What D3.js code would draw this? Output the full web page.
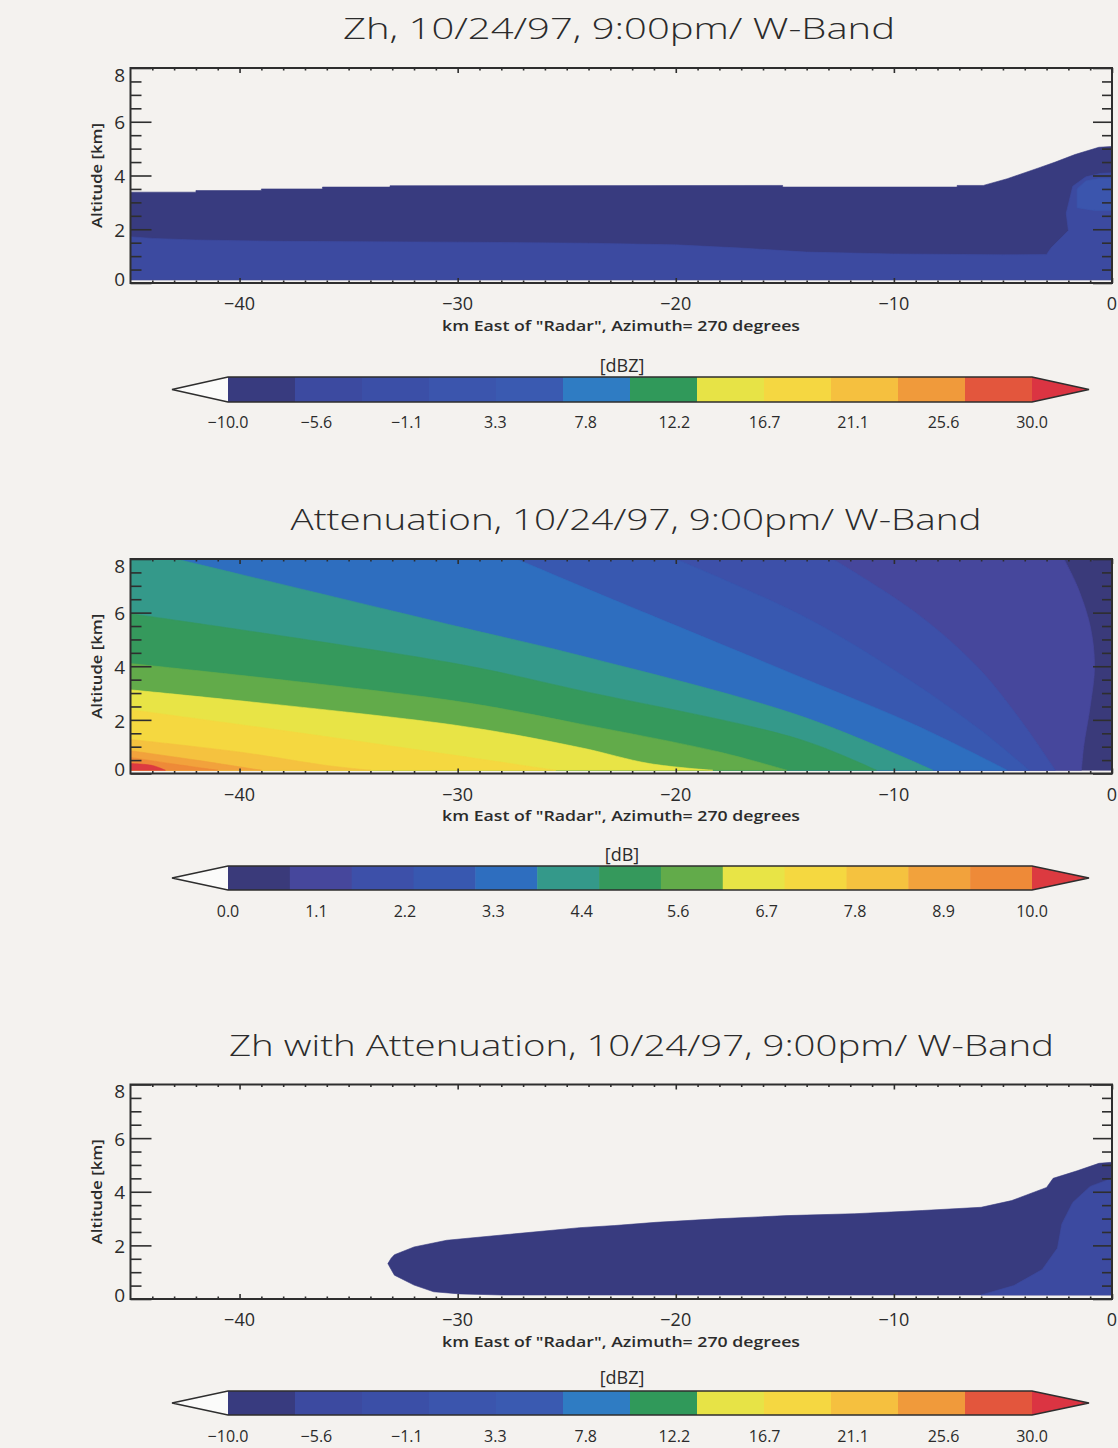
<!DOCTYPE html>
<html>
<head>
<meta charset="utf-8">
<script src="https://cdn.jsdelivr.net/npm/d3@7"></script>
<style>
  body { margin: 0; background: #f4f2ef; }
  svg { display: block; }
  text { font-family: "Open Sans", "DejaVu Sans", sans-serif; fill: #2b2b2b; }
</style>
</head>
<body>
<svg id="fig" width="1118" height="1448"></svg>
<script>
// ---------------------------------------------------------------------------
// Data: range-height sections, W-band, 10/24/97 9:00pm
// Every shape is a filled contour region given as [km east of radar, altitude km]
// ---------------------------------------------------------------------------
const rangeDomain = [-45, 0];
const altDomain = [0, 8];
const xMajorTicks = [-40, -30, -20, -10, 0];
const yMajorTicks = [0, 2, 4, 6, 8];
const lowestGate = 0.12;

// colour tables (one colour per contour level)
const dbzColors = ['#383b7f', '#3c4aa0', '#3b4fa7', '#3b55ad', '#3a5ab1', '#2f7cc3',
                   '#30995a', '#e7e346', '#f5d741', '#f5c03f', '#f09a3b', '#e3563d'];
const dbzOver = '#db3442';
const dbColors = ['#3a3a7a', '#46479c', '#3d50a9', '#3858b0', '#2e6ebf', '#34998a', '#35995c',
                  '#62ab4a', '#e8e446', '#f5d840', '#f5c23f', '#f2a23c', '#ee8a38'];
const dbOver = '#dc3a40';
const dbzTickLabels = ['−10.0', '−5.6', '−1.1', '3.3', '7.8', '12.2', '16.7', '21.1', '25.6', '30.0'];
const dbTickLabels = ['0.0', '1.1', '2.2', '3.3', '4.4', '5.6', '6.7', '7.8', '8.9', '10.0'];

// Zh: echo top (level 0 region upper edge)
const zhEchoTop = [[-45, 3.38], [-42, 3.38], [-42, 3.44], [-39, 3.44], [-39, 3.5], [-36.2, 3.5],
  [-36.2, 3.57], [-33.1, 3.57], [-33.1, 3.62], [-15.1, 3.63], [-15.1, 3.57], [-7.1, 3.57],
  [-7.1, 3.63], [-5.9, 3.63], [-4.8, 3.88], [-3.3, 4.3], [-2.6, 4.5], [-1.7, 4.78], [-0.6, 5.05], [0, 5.08]];
// Zh: upper edge of the level-1 band (low layer plus the patch next to the radar)
const zhBand1 = [[-45, 1.72], [-44, 1.66], [-42, 1.6], [-38, 1.55], [-30, 1.52], [-24, 1.48],
  [-20, 1.42], [-17, 1.3], [-14, 1.15], [-10, 1.08], [-5, 1.05], [-3.0, 1.06], [-2.8, 1.3],
  [-2.0, 1.95], [-2.1, 2.6], [-1.8, 3.6], [-1.2, 3.95], [-0.5, 4.08], [0, 4.1]];
// Zh: level-2 patch
const zhBand2 = [[-1.6, 2.8], [-1.6, 3.5], [-1.2, 3.8], [-0.5, 3.9], [0, 3.9], [0, 2.7], [-0.8, 2.7]];

// Attenuation: lower-left boundary of each level (from top/left edge down to the ground)
const attBounds = [
  [[-2.2, 8], [-1.6, 7], [-1.0, 5.5], [-0.8, 4], [-1.0, 2.5], [-1.3, 1], [-1.4, 0]],
  [[-12.8, 8], [-9, 6], [-6.2, 4], [-4.2, 2], [-2.6, 0]],
  [[-20, 8], [-14, 5.8], [-9.5, 3.6], [-6, 1.6], [-3.8, 0]],
  [[-27.3, 8], [-24.4, 7.0], [-14.3, 3.6], [-9, 1.8], [-4.8, 0]],
  [[-42.9, 8], [-30.1, 5.5], [-24.4, 4.4], [-14.3, 2.15], [-8.2, 0]],
  [[-45, 5.96], [-30.1, 4.1], [-24.4, 3.1], [-14.3, 1.27], [-10.8, 0]],
  [[-45, 4.1], [-30.1, 2.7], [-24.4, 1.85], [-18, 0.8], [-14.9, 0]],
  [[-45, 3.12], [-30.1, 1.8], [-24.4, 0.97], [-21.2, 0.37], [-18.3, 0]],
  [[-45, 2.38], [-38, 1.6], [-32, 0.9], [-27, 0.3], [-25.5, 0]],
  [[-45, 1.27], [-40, 0.8], [-36, 0.3], [-34, 0]],
  [[-45, 0.85], [-42, 0.5], [-39, 0]],
  [[-45, 0.6], [-43, 0.35], [-41, 0]],
  [[-45, 0.37], [-44, 0.3], [-43.4, 0]]
];

// Zh with attenuation: echo outline (top edge, then base edge, both from the western tip)
const zhaEchoTop = [[-33.2, 1.32], [-33.05, 1.52], [-32.9, 1.65], [-32.0, 1.94], [-30.5, 2.19],
  [-27.4, 2.43], [-24.4, 2.66], [-22.8, 2.74], [-20.9, 2.86], [-18.1, 2.99], [-14.9, 3.11],
  [-11.8, 3.18], [-8.7, 3.3], [-6.0, 3.42], [-4.6, 3.67], [-3.0, 4.16], [-2.7, 4.5],
  [-1.6, 4.78], [-0.6, 5.06], [0, 5.1]];
const zhaEchoBase = [[-33.2, 1.32], [-33.05, 1.1], [-32.9, 0.89], [-32.0, 0.52], [-31.1, 0.27],
  [-29.9, 0.19], [-28, 0.15], [0, 0.15]];
const zhaBand1 = [[-6.0, 0.15], [-4.5, 0.5], [-3.2, 1.1], [-2.5, 1.9], [-2.3, 2.8], [-1.8, 3.6],
  [-1.0, 4.2], [0, 4.5], [0, 0.15]];

// ---------------------------------------------------------------------------
const svg = d3.select('#fig');
const X0 = 130.5, X1 = 1112;
const x = d3.scaleLinear().domain(rangeDomain).range([X0, X1]);
const ink = '#2e2e2e';

function panel(cfg) {
  const y = d3.scaleLinear().domain(altDomain).range([cfg.bottom, cfg.top]);
  const g = svg.append('g');
  const clipId = 'clip' + cfg.id;
  svg.append('clipPath').attr('id', clipId).append('rect')
    .attr('x', X0).attr('y', cfg.top).attr('width', X1 - X0).attr('height', cfg.bottom - cfg.top);
  const shape = d3.line().x(d => x(d[0])).y(d => y(d[1]));
  const smooth = d3.line().x(d => x(d[0])).y(d => y(Math.max(d[1], lowestGate)))
    .curve(d3.curveCatmullRom.alpha(0.5));
  const fills = g.append('g').attr('clip-path', `url(#${clipId})`);
  cfg.regions.forEach(r => {
    let d;
    if (r.bound) {
      // level region lies lower-left of its boundary: close along the ground and the west edge
      const b = r.bound;
      d = smooth(b) + `L${x(rangeDomain[0])},${y(lowestGate)}`;
      if (b[0][0] > rangeDomain[0]) d += `L${x(rangeDomain[0])},${y(altDomain[1])}`;
      d += 'Z';
    } else {
      d = shape(r.pts) + 'Z';
    }
    fills.append('path').attr('d', d).attr('fill', r.color)
      .attr('stroke', r.color).attr('stroke-width', 0.6);
  });

  // inward ticks on all four sides
  const minorX = d3.range(-44, 0, 1).filter(v => v % 10 !== 0);
  const minorY = d3.range(0.5, 8, 0.5).filter(v => v % 2 !== 0);
  const tickAxis = (gen, tr, vals, len) => {
    const a = g.append('g').attr('transform', tr)
      .call(gen.tickValues(vals).tickSize(-len).tickSizeOuter(0).tickFormat(''));
    a.select('.domain').remove();
    a.selectAll('line').attr('stroke', ink).attr('stroke-width', 1.6);
  };
  tickAxis(d3.axisBottom(x), `translate(0,${cfg.bottom})`, xMajorTicks, 5);
  tickAxis(d3.axisBottom(x), `translate(0,${cfg.bottom})`, minorX, 2.5);
  tickAxis(d3.axisTop(x), `translate(0,${cfg.top})`, xMajorTicks, 5);
  tickAxis(d3.axisTop(x), `translate(0,${cfg.top})`, minorX, 2.5);
  tickAxis(d3.axisLeft(y), `translate(${X0},0)`, yMajorTicks, 21);
  tickAxis(d3.axisLeft(y), `translate(${X0},0)`, minorY, 11);
  tickAxis(d3.axisRight(y), `translate(${X1},0)`, yMajorTicks, 19);
  tickAxis(d3.axisRight(y), `translate(${X1},0)`, minorY, 10);

  g.append('rect').attr('x', X0).attr('y', cfg.top).attr('width', X1 - X0)
    .attr('height', cfg.bottom - cfg.top).attr('fill', 'none')
    .attr('stroke', ink).attr('stroke-width', 2);

  // tick labels
  xMajorTicks.forEach(v => {
    g.append('text').attr('x', x(v)).attr('y', cfg.bottom + 21).attr('dy', '0.35em')
      .attr('text-anchor', 'middle').attr('font-size', 18).text(v < 0 ? '−' + (-v) : v);
  });
  yMajorTicks.forEach(v => {
    const off = v === 8 ? 7 : (v === 0 ? -4 : 1);
    g.append('text').attr('x', 125).attr('y', y(v) + off).attr('dy', '0.35em')
      .attr('text-anchor', 'end').attr('font-size', 19).text(v);
  });

  g.append('text').attr('x', 621).attr('y', cfg.bottom + 43).attr('dy', '0.35em')
    .attr('text-anchor', 'middle').attr('font-size', 14).attr('font-weight', 600)
    .attr('textLength', 358).attr('lengthAdjust', 'spacingAndGlyphs')
    .text('km East of "Radar", Azimuth= 270 degrees');
  g.append('text').attr('transform', `translate(97,${(cfg.top + cfg.bottom) / 2}) rotate(-90)`)
    .attr('dy', '0.35em').attr('text-anchor', 'middle').attr('font-size', 14)
    .attr('font-weight', 600).attr('textLength', 105).attr('lengthAdjust', 'spacingAndGlyphs')
    .text('Altitude [km]');

  // title
  g.append('text').attr('x', cfg.titleX).attr('y', cfg.titleY).attr('text-anchor', 'middle')
    .attr('font-size', 30).attr('font-weight', 300)
    .attr('textLength', cfg.titleLen).attr('lengthAdjust', 'spacingAndGlyphs')
    .text(cfg.title);

  colorbar(cfg.cb);
}

function colorbar(cb) {
  const L = 228, R = 1032, tipL = 172, tipR = 1089;
  const mid = (cb.top + cb.bottom) / 2;
  const g = svg.append('g');
  const seg = d3.scaleLinear().domain([0, cb.colors.length]).range([L, R]);
  cb.colors.forEach((c, i) => {
    g.append('rect').attr('x', seg(i)).attr('y', cb.top)
      .attr('width', seg(i + 1) - seg(i) + 0.5).attr('height', cb.bottom - cb.top).attr('fill', c);
  });
  g.append('path').attr('d', `M${tipL},${mid}L${L},${cb.top}L${L},${cb.bottom}Z`).attr('fill', '#fbfbfa');
  g.append('path').attr('d', `M${R},${cb.top}L${tipR},${mid}L${R},${cb.bottom}Z`).attr('fill', cb.over);
  g.append('path')
    .attr('d', `M${tipL},${mid}L${L},${cb.top}L${R},${cb.top}L${tipR},${mid}L${R},${cb.bottom}L${L},${cb.bottom}Z`)
    .attr('fill', 'none').attr('stroke', ink).attr('stroke-width', 1.6);
  const val = d3.scaleLinear().domain(cb.domain).range([L, R]);
  cb.labels.forEach(t => {
    g.append('text').attr('x', val(+t.replace('−', '-'))).attr('y', cb.labelY).attr('dy', '0.35em')
      .attr('text-anchor', 'middle').attr('font-size', 16).text(t);
  });
  g.append('text').attr('x', 622).attr('y', cb.unitY).attr('dy', '0.35em')
    .attr('text-anchor', 'middle').attr('font-size', 18).text(cb.unit);
}

// Panel 1: Zh
panel({
  id: 1, top: 68, bottom: 283,
  title: 'Zh, 10/24/97, 9:00pm/ W-Band', titleX: 619, titleY: 39, titleLen: 552,
  regions: [
    { pts: [...zhEchoTop, [0, lowestGate], [-45, lowestGate]], color: dbzColors[0] },
    { pts: [...zhBand1, [0, lowestGate], [-45, lowestGate]], color: dbzColors[1] },
    { pts: zhBand2, color: dbzColors[3] }
  ],
  cb: { top: 377, bottom: 402, labelY: 422, unitY: 365.5, colors: dbzColors, over: dbzOver,
        domain: [-10, 30], labels: dbzTickLabels, unit: '[dBZ]' }
});

// Panel 2: path-integrated attenuation
panel({
  id: 2, top: 559, bottom: 773.5,
  title: 'Attenuation, 10/24/97, 9:00pm/ W-Band', titleX: 636, titleY: 530, titleLen: 691,
  regions: [
    { pts: [[-45, 8], [0, 8], [0, lowestGate], [-45, lowestGate]], color: dbColors[0] },
    ...attBounds.map((b, i) => ({ bound: b, color: i + 1 < dbColors.length ? dbColors[i + 1] : dbOver }))
  ],
  cb: { top: 866, bottom: 890, labelY: 911.5, unitY: 855, colors: dbColors, over: dbOver,
        domain: [0, 10], labels: dbTickLabels, unit: '[dB]' }
});

// Panel 3: Zh with attenuation
panel({
  id: 3, top: 1084.5, bottom: 1299,
  title: 'Zh with Attenuation, 10/24/97, 9:00pm/ W-Band', titleX: 641.5, titleY: 1056, titleLen: 825,
  regions: [
    { pts: [...zhaEchoTop, ...zhaEchoBase.slice().reverse()], color: dbzColors[0] },
    { pts: zhaBand1, color: dbzColors[1] }
  ],
  cb: { top: 1391, bottom: 1415, labelY: 1436.5, unitY: 1378, colors: dbzColors, over: dbzOver,
        domain: [-10, 30], labels: dbzTickLabels, unit: '[dBZ]' }
});
</script>
</body>
</html>
